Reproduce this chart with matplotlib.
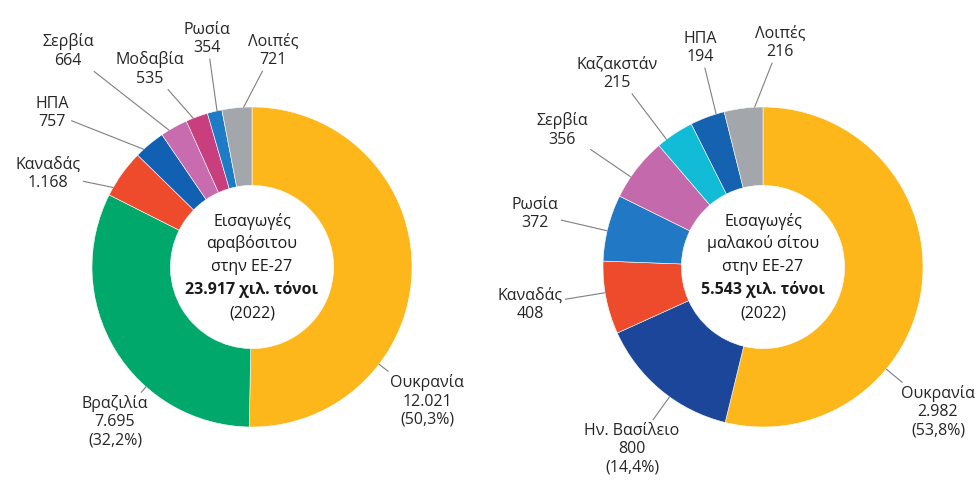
import numpy as np
import matplotlib
matplotlib.use('Agg')
from matplotlib import pyplot as plt

plt.rcParams['font.family'] = ['Open Sans', 'DejaVu Sans']

# corn imports into EU-27, 2022 (thousand tonnes)
corn_labels = ['Ουκρανία', 'Βραζιλία', 'Καναδάς', 'ΗΠΑ', 'Σερβία', 'Μοδαβία', 'Ρωσία', 'Λοιπές']
corn_values = [12021, 7695, 1168, 757, 664, 535, 354, 721]
corn_total = 23917
corn_colors = ['#FDB71B', '#00A86B', '#EE4A2C', '#1160B2', '#C96BAF', '#C93F7E', '#1E7BC6', '#A3A6AA']

# soft wheat imports into EU-27, 2022 (thousand tonnes)
wheat_labels = ['Ουκρανία', 'Ην. Βασίλειο', 'Καναδάς', 'Ρωσία', 'Σερβία', 'Καζακστάν', 'ΗΠΑ', 'Λοιπές']
wheat_values = [2982, 800, 408, 372, 356, 215, 194, 216]
wheat_total = 5543
wheat_colors = ['#FDB71B', '#1B4699', '#EE4A2C', '#2179C5', '#C469AB', '#12BCD6', '#1563B0', '#A3A6AA']

# where each label sits, in pixels of the 975x483 picture
corn_label_px = [(427, 401), (115, 422), (48, 174), (52, 113), (68, 51), (150, 69), (207, 39), (273, 51)]
wheat_label_px = [(938, 412), (632, 449), (530, 305), (535, 214), (562, 130), (617, 74), (700, 48), (780, 43)]

W, H = 975, 483
R = 160.0          # outer radius in pixels
CY = 267           # centre y in pixels (from top)


def fmt(v):
    return f'{v:,}'.replace(',', '.')


def donut(cx, labels, values, total, colors, label_px, title_lines):
    side = H
    ax = plt.gcf().add_axes([(cx - side / 2) / W, 0, side / W, 1])
    wedges, _ = ax.pie(values, colors=colors, startangle=90, counterclock=False,
                       radius=1, wedgeprops=dict(width=0.49, edgecolor='white', linewidth=0.4))
    half = side / 2 / R
    ax.set_xlim(-half, half)
    ax.set_ylim(-(H - CY) / R, CY / R)
    ax.set_aspect('equal')
    ax.axis('off')

    for i, (w, lab, v) in enumerate(zip(wedges, labels, values)):
        px, py = label_px[i]
        tx, ty = (px - cx) / R, (CY - py) / R
        txt = f'{lab}\n{fmt(v)}'
        if i < 2:
            pct = f'{100 * v / total:.1f}'.replace('.', ',')
            txt += f'\n({pct}%)'
        # attach leader to the outer edge, in the direction of the label
        a = np.degrees(np.arctan2(ty, tx))
        mid = (w.theta1 + w.theta2) / 2
        a = a + 360 * np.round((mid - a) / 360)
        m = min(3, (w.theta2 - w.theta1) / 3)
        a = np.clip(a, w.theta1 + m, w.theta2 - m)
        xy = (np.cos(np.radians(a)), np.sin(np.radians(a)))
        ax.annotate(txt, xy=xy, xytext=(tx, ty), ha='center', va='center',
                    fontsize=11.5, color='#262626', linespacing=1.2,
                    arrowprops=dict(arrowstyle='-', color='#7F7F7F', lw=0.8,
                                    shrinkA=0, shrinkB=0))

    offs = [46, 23, 0, -23, -46]
    for j, line in enumerate(title_lines):
        ax.text(0, offs[j] / R, line, ha='center', va='center', fontsize=11.5,
                color='#1A1A1A', fontweight='bold' if j == 3 else 'normal')


fig = plt.figure(figsize=(W / 100, H / 100), dpi=100)

donut(252, corn_labels, corn_values, corn_total, corn_colors, corn_label_px,
      ['Εισαγωγές', 'αραβόσιτου', 'στην ΕΕ-27', f'{fmt(corn_total)} χιλ. τόνοι', '(2022)'])
donut(763, wheat_labels, wheat_values, wheat_total, wheat_colors, wheat_label_px,
      ['Εισαγωγές', 'μαλακού σίτου', 'στην ΕΕ-27', f'{fmt(wheat_total)} χιλ. τόνοι', '(2022)'])

fig.savefig('out.png', dpi=100)
